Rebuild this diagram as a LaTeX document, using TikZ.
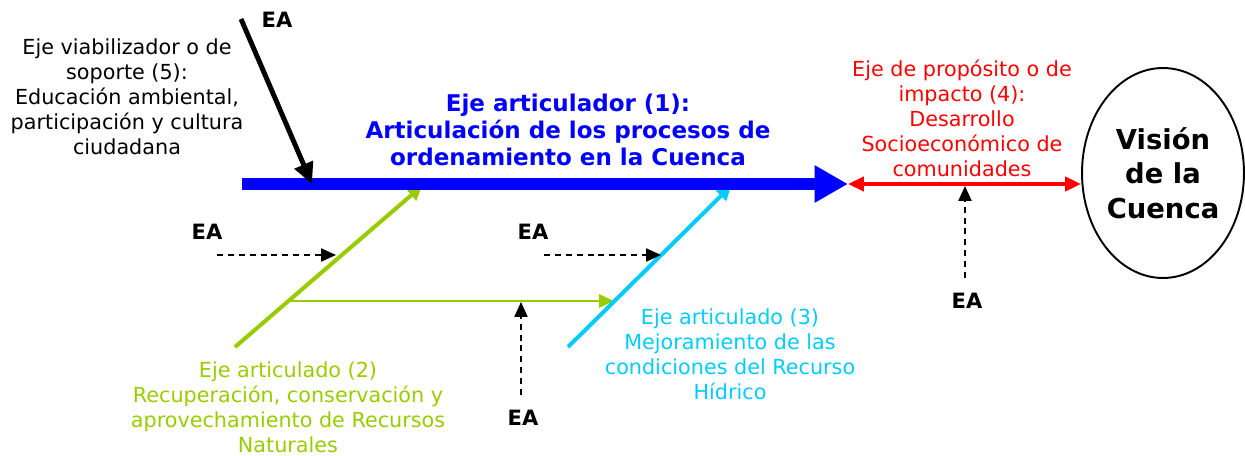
\documentclass[tikz,border=0pt]{standalone}
\usepackage{fontspec}
\setmainfont{DejaVu Sans}
\usetikzlibrary{arrows.meta,shapes.geometric}
\definecolor{ejeverde}{RGB}{153,204,0}
\definecolor{ejecian}{RGB}{0,204,255}
\tikzset{
  texto/.style={align=center, font=\fontsize{11.8}{14.2}\selectfont},
  ea/.style={font=\fontsize{12}{14}\selectfont\bfseries},
  influye/.style={dash pattern=on 3.4pt off 2.8pt, line width=0.9pt, -{Triangle[length=8.5pt,width=7.5pt]}},
  articulado/.style={line width=2.3pt, -{Triangle[length=8pt,width=8pt]}},
}
\begin{document}
\begin{tikzpicture}[x=0.02cm, y=-0.02cm]
\useasboundingbox (0,0) rectangle (1245,456);
\coordinate (ini) at (242,184);
\coordinate (fin) at (848,184);
\coordinate (g0) at (235,347);
\coordinate (g1) at (422,186);
\coordinate (g2) at (290,301);
\coordinate (g3) at (614,301);
\coordinate (c0) at (568,347);
\coordinate (c1) at (731,186);
\coordinate (s0) at (241,19);
\coordinate (s1) at (312,184);
\coordinate (d1) at (217,255);
\coordinate (t1) at (336,255);
\coordinate (d2) at (544,255);
\coordinate (t2) at (661,255);
\coordinate (d3) at (521,395);
\coordinate (t3) at (521,302);
\coordinate (d4) at (965,278);
\coordinate (t4) at (965,186);

\node[texto] (soporte) at (127,97) {Eje viabilizador o de\\soporte (5):\\Educación ambiental,\\participación y cultura\\ciudadana};
\node[texto, text=blue, font=\fontsize{13.1}{15.6}\selectfont\bfseries] (articulador) at (568,130) {Eje articulador (1):\\Articulación de los procesos de\\ordenamiento en la Cuenca};
\node[texto, text=red] (proposito) at (962,118) {Eje de propósito o de\\impacto (4):\\Desarrollo\\Socioeconómico de\\comunidades};
\node[texto, text=ejeverde] (recursos) at (288,407) {Eje articulado (2)\\Recuperación, conservación y\\aprovechamiento de Recursos\\Naturales};
\node[texto, text=ejecian] (hidrico) at (730,354) {Eje articulado (3)\\Mejoramiento de las\\condiciones del Recurso\\Hídrico};
\node[draw, ellipse, line width=1.1pt, minimum width=3.24cm, minimum height=4.2cm, inner sep=0pt, align=center,
  font=\fontsize{15.6}{19.6}\selectfont\bfseries] (vision) at (1163,173) {Visión\\de la\\Cuenca};
\node[ea] (ea0) at (277,20) {EA};
\node[ea] (ea1) at (207,232) {EA};
\node[ea] (ea2) at (533,232) {EA};
\node[ea] (ea3) at (523,418) {EA};
\node[ea] (ea4) at (967,301) {EA};

\draw[articulado, ejeverde] (g0) -- (g1);
\draw[ejeverde, line width=1.3pt, -{Triangle[length=8.5pt,width=7.5pt]}] (g2) -- (g3);
\draw[articulado, ejecian] (c0) -- (c1);
\draw[blue, line width=6.8pt, -{Triangle[length=19pt,width=20pt]}] (ini) -- (fin);
\draw[red, line width=2pt, {Triangle[length=9pt,width=8pt]}-{Triangle[length=9pt,width=8pt]}] (fin) -- (fin -| vision.west);
\draw[line width=2.8pt, -{Triangle[length=12pt,width=11pt]}] (s0) -- (s1);
\draw[influye] (d1) -- (t1);
\draw[influye] (d2) -- (t2);
\draw[influye] (d3) -- (t3);
\draw[influye] (d4) -- (t4);
\end{tikzpicture}
\end{document}
